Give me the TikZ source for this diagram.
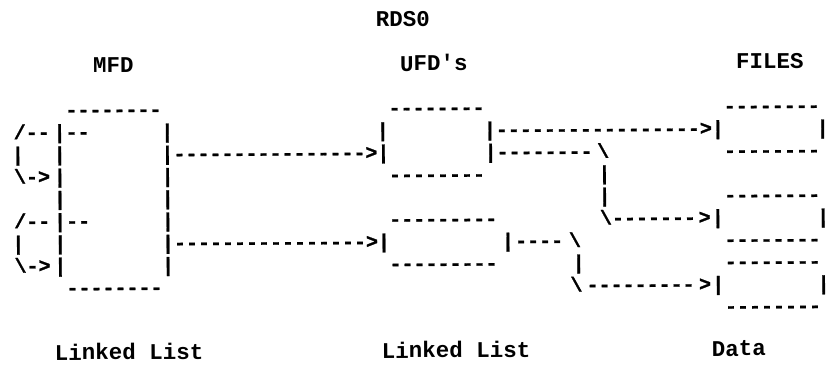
\documentclass[tikz,border=0pt]{standalone}
\usepackage{fontspec}
\setmonofont{Liberation Mono}
\newfontfamily\artfont{Liberation Mono}[FakeBold=1.2]
\newcommand\ax[1]{18.09+11.97*(#1)}
\newcommand\bs{\textbackslash}
\tikzset{
  art/.style={anchor=base west, inner sep=0pt, outer sep=0pt,
    font=\artfont\bfseries\fontsize{20}{24}\selectfont},
  lab/.style={anchor=base west, inner sep=0pt, outer sep=0pt,
    font=\ttfamily\bfseries\fontsize{22.5}{27}\selectfont}
}
\begin{document}
\begin{tikzpicture}[x=1pt,y=1pt]
\useasboundingbox (0,0) rectangle (829,-365);
\begin{scope}[rotate around={0.35:(400,-200)}, transform shape]
% labels
\node[lab] (rds) at (377,{-(20+6.5)}) {RDS0};
\node[lab] (mfd) at (94,{-(64.5+6.5)}) {MFD};
\node[lab] (ufd) at (401,{-(64.5+6.5)}) {UFD's};
\node[lab] (files) at (737,{-(64.5+6.5)}) {FILES};
\node[lab] (ll1) at (54,{-(351.5+6.5)}) {Linked List};
\node[lab] (ll2) at (381,{-(351.5+6.5)}) {Linked List};
\node[lab] (data) at (711,{-(351.5+6.5)}) {Data};
% row A
\node[art] (a1) at ({\ax{4}},{-(109+5.4)}) {--------};
\node[art] (a2) at ({\ax{31}},{-(109+5.4)}) {--------};
\node[art] (a3) at ({\ax{59}},{-(109+5.4)}) {--------};
% row B
\node[art] (b1) at ({\ax{-0.33}},{-(131.25+5.4)}) {/--};
\node[art] (b2) at ({\ax{3}},{-(131.25+5.4)}) {|--};
\node[art] (b3) at ({\ax{12}},{-(131.25+5.4)}) {|};
\node[art] (b4) at ({\ax{30}},{-(131.25+5.4)}) {|};
\node[art] (b5) at ({\ax{38.95}},{-(131.25+5.4)}) {|----------------->|};
\node[art] (b6) at ({\ax{66.75}},{-(131.25+5.4)}) {|};
% row C
\node[art] (c1) at ({\ax{-0.5}},{-(153.5+5.4)}) {|};
\node[art] (c2) at ({\ax{3}},{-(153.5+5.4)}) {|};
\node[art] (c3) at ({\ax{12}},{-(153.5+5.4)}) {|---------------->|};
\node[art] (c4) at ({\ax{39}},{-(153.5+5.4)}) {|--------};
\node[art] (c5) at ({\ax{48.4}},{-(153.5+5.4)}) {\bs};
\node[art] (c6) at ({\ax{59}},{-(153.5+5.4)}) {--------};
% row D
\node[art] (d1) at ({\ax{-0.33}},{-(175.75+5.4)}) {\bs->};
\node[art] (d2) at ({\ax{3}},{-(175.75+5.4)}) {|};
\node[art] (d3) at ({\ax{12}},{-(175.75+5.4)}) {|};
\node[art] (d4) at ({\ax{31}},{-(175.75+5.4)}) {--------};
\node[art] (d5) at ({\ax{48.5}},{-(175.75+5.4)}) {|};
% row E
\node[art] (e1) at ({\ax{3}},{-(198+5.4)}) {|};
\node[art] (e2) at ({\ax{12}},{-(198+5.4)}) {|};
\node[art] (e3) at ({\ax{48.5}},{-(198+5.4)}) {|};
\node[art] (e4) at ({\ax{59}},{-(198+5.4)}) {--------};
% row F
\node[art] (f1) at ({\ax{-0.33}},{-(220.25+5.4)}) {/--};
\node[art] (f2) at ({\ax{3}},{-(220.25+5.4)}) {|--};
\node[art] (f3) at ({\ax{12}},{-(220.25+5.4)}) {|};
\node[art] (f4) at ({\ax{31}},{-(220.25+5.4)}) {---------};
\node[art] (f5) at ({\ax{48.6}},{-(220.25+5.4)}) {\bs-------};
\node[art] (f6) at ({\ax{56.85}},{-(220.25+5.4)}) {>};
\node[art] (f7) at ({\ax{57.95}},{-(220.25+5.4)}) {|};
\node[art] (f8) at ({\ax{66.75}},{-(220.25+5.4)}) {|};
% row G
\node[art] (g1) at ({\ax{-0.5}},{-(242.5+5.4)}) {|};
\node[art] (g2) at ({\ax{3}},{-(242.5+5.4)}) {|};
\node[art] (g3) at ({\ax{12}},{-(242.5+5.4)}) {|---------------->|};
\node[art] (g4) at ({\ax{40.4}},{-(242.5+5.4)}) {|};
\node[art] (g5) at ({\ax{41.5}},{-(242.5+5.4)}) {----};
\node[art] (g6) at ({\ax{46}},{-(242.5+5.4)}) {\bs};
\node[art] (g7) at ({\ax{59}},{-(242.5+5.4)}) {--------};
% row H
\node[art] (h1) at ({\ax{-0.33}},{-(264.75+5.4)}) {\bs->};
\node[art] (h2) at ({\ax{3}},{-(264.75+5.4)}) {|};
\node[art] (h3) at ({\ax{12}},{-(264.75+5.4)}) {|};
\node[art] (h4) at ({\ax{31}},{-(264.75+5.4)}) {---------};
\node[art] (h5) at ({\ax{46.3}},{-(264.75+5.4)}) {|};
\node[art] (h6) at ({\ax{59}},{-(264.75+5.4)}) {--------};
% row I
\node[art] (i1) at ({\ax{4}},{-(287+5.4)}) {--------};
\node[art] (i2) at ({\ax{46.1}},{-(287+5.4)}) {\bs};
\node[art] (i3) at ({\ax{47.45}},{-(287+5.4)}) {---------};
\node[art] (i4) at ({\ax{56.85}},{-(287+5.4)}) {>};
\node[art] (i5) at ({\ax{57.95}},{-(287+5.4)}) {|};
\node[art] (i6) at ({\ax{66.75}},{-(287+5.4)}) {|};
% row J
\node[art] (j1) at ({\ax{59}},{-(309.25+5.4)}) {--------};
\end{scope}
\end{tikzpicture}
\end{document}
